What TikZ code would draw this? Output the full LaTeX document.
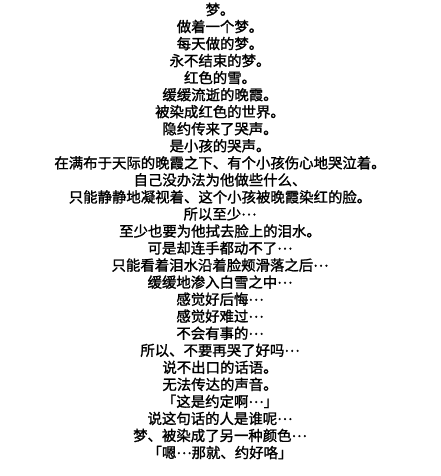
\documentclass[tikz,border=0pt]{standalone}
\usepackage{fontspec}
\newfontfamily\cjk[FakeBold=1.4]{Noto Sans CJK SC}
\newcommand{\el}{\raisebox{0.28em}[0pt][0pt]{…}}
\begin{document}
\begin{tikzpicture}[x=1pt,y=1pt,
  verse/.style={inner sep=0pt, font=\cjk\fontsize{14.4}{14.4}\selectfont, text=black, anchor=center}]
\fill[white] (0,0) rectangle (440,476);
\useasboundingbox (0,0) rectangle (440,476);
\def\ly#1{476-9.5-17.04*#1}
\node[verse] (l0) at (220,{\ly{0}}) {梦。};
\node[verse] (l1) at (220,{\ly{1}}) {做着一个梦。};
\node[verse] (l2) at (220,{\ly{2}}) {每天做的梦。};
\node[verse] (l3) at (220,{\ly{3}}) {永不结束的梦。};
\node[verse] (l4) at (220,{\ly{4}}) {红色的雪。};
\node[verse] (l5) at (220,{\ly{5}}) {缓缓流逝的晚霞。};
\node[verse] (l6) at (220,{\ly{6}}) {被染成红色的世界。};
\node[verse] (l7) at (220,{\ly{7}}) {隐约传来了哭声。};
\node[verse] (l8) at (220,{\ly{8}}) {是小孩的哭声。};
\node[verse] (l9) at (220,{\ly{9}}) {在满布于天际的晚霞之下、有个小孩伤心地哭泣着。};
\node[verse] (l10) at (220,{\ly{10}}) {自己没办法为他做些什么、};
\node[verse] (l11) at (220,{\ly{11}}) {只能静静地凝视着、这个小孩被晚霞染红的脸。};
\node[verse] (l12) at (220,{\ly{12}}) {所以至少\el};
\node[verse] (l13) at (220,{\ly{13}}) {至少也要为他拭去脸上的泪水。};
\node[verse] (l14) at (220,{\ly{14}}) {可是却连手都动不了\el};
\node[verse] (l15) at (220,{\ly{15}}) {只能看着泪水沿着脸颊滑落之后\el};
\node[verse] (l16) at (220,{\ly{16}}) {缓缓地渗入白雪之中\el};
\node[verse] (l17) at (220,{\ly{17}}) {感觉好后悔\el};
\node[verse] (l18) at (220,{\ly{18}}) {感觉好难过\el};
\node[verse] (l19) at (220,{\ly{19}}) {不会有事的\el};
\node[verse] (l20) at (220,{\ly{20}}) {所以、不要再哭了好吗\el};
\node[verse] (l21) at (220,{\ly{21}}) {说不出口的话语。};
\node[verse] (l22) at (220,{\ly{22}}) {无法传达的声音。};
\node[verse] (l23) at (220,{\ly{23}}) {「这是约定啊\el」};
\node[verse] (l24) at (220,{\ly{24}}) {说这句话的人是谁呢\el};
\node[verse] (l25) at (220,{\ly{25}}) {梦、被染成了另一种颜色\el};
\node[verse] (l26) at (220,{\ly{26}}) {「嗯\el 那就、约好咯」};
\end{tikzpicture}
\end{document}
